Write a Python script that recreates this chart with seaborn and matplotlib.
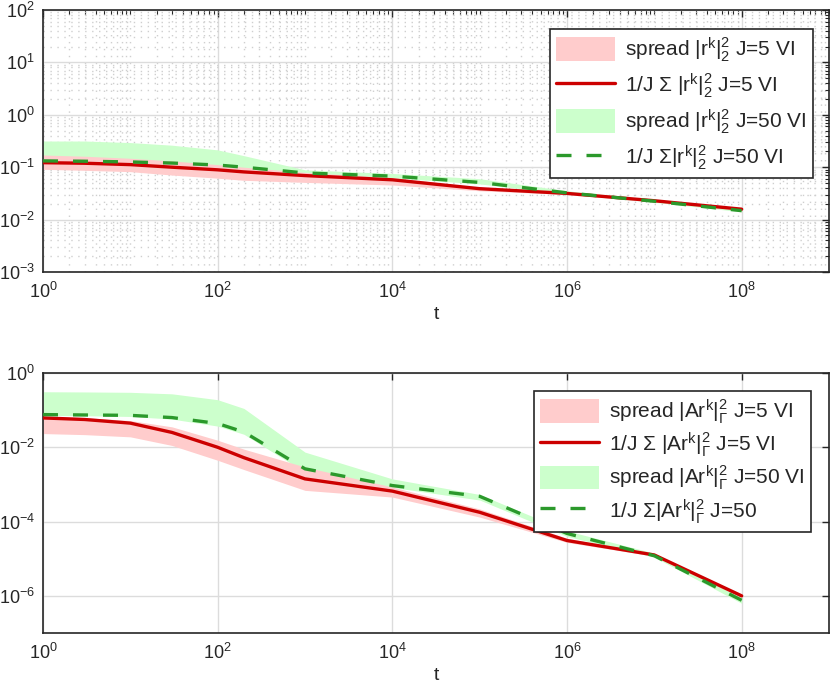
import numpy as np
import pandas as pd
import matplotlib
matplotlib.use("Agg")
import matplotlib.pyplot as plt
import matplotlib.ticker as mticker
import seaborn as sns

# ---------------- data ----------------
t = [1, 3, 10, 30, 100, 200, 1e3, 1e4, 1e5, 1e6, 1e7, 1e8]

# top panel: |r^k|_2^2
r5_mean = [0.122, 0.119, 0.112, 0.100, 0.0891, 0.0813, 0.0692, 0.0575, 0.0389, 0.0316, 0.0229, 0.0158]
r5_lo   = [0.0912, 0.0871, 0.0822, 0.0708, 0.0617, 0.0562, 0.0513, 0.0457, 0.0355, 0.0302, 0.0219, 0.0151]
r5_hi   = [0.171, 0.162, 0.148, 0.132, 0.112, 0.100, 0.0794, 0.0631, 0.0417, 0.0331, 0.0240, 0.0166]
r50_mean = [0.132, 0.130, 0.126, 0.120, 0.110, 0.100, 0.0776, 0.0676, 0.0513, 0.0324, 0.0224, 0.0148]
r50_lo   = [0.120, 0.117, 0.112, 0.107, 0.0977, 0.0891, 0.0724, 0.0631, 0.0479, 0.0309, 0.0214, 0.0141]
r50_hi   = [0.316, 0.316, 0.295, 0.263, 0.214, 0.166, 0.0891, 0.0759, 0.0603, 0.0355, 0.0240, 0.0155]

# bottom panel: |Ar^k|_Gamma^2
a5_mean = [0.0617, 0.0560, 0.0447, 0.0251, 0.0100, 0.00525, 0.00141, 0.000661, 0.000178, 3.09e-5, 1.26e-5, 1.0e-6]
a5_lo   = [0.0234, 0.0219, 0.0191, 0.0112, 0.00447, 0.00251, 0.000692, 0.000457, 0.000132, 2.75e-5, 1.17e-5, 9.3e-7]
a5_hi   = [0.0692, 0.0631, 0.0525, 0.0355, 0.0155, 0.00891, 0.00295, 0.000851, 0.000219, 3.55e-5, 1.35e-5, 1.07e-6]
a50_mean = [0.0759, 0.0741, 0.0724, 0.0631, 0.0437, 0.0257, 0.00263, 0.000933, 0.000479, 4.79e-5, 1.20e-5, 7.6e-7]
a50_lo   = [0.0724, 0.0708, 0.0676, 0.0575, 0.0372, 0.0224, 0.00214, 0.000832, 0.000380, 3.98e-5, 1.10e-5, 6.3e-7]
a50_hi   = [0.313, 0.309, 0.302, 0.275, 0.191, 0.111, 0.00741, 0.00141, 0.000537, 5.62e-5, 1.41e-5, 8.9e-7]

top_labels = [r"spread $|r^{k}|_2^2$ J=5 VI",
              r"1/J $\Sigma$ $|r^{k}|_2^2$ J=5 VI",
              r"spread $|r^{k}|_2^2$ J=50 VI",
              r"1/J $\Sigma|r^{k}|_2^2$ J=50 VI"]
bot_labels = [r"spread $|Ar^{k}|_{\Gamma}^2$ J=5 VI",
              r"1/J $\Sigma$ $|Ar^{k}|_{\Gamma}^2$ J=5 VI",
              r"spread $|Ar^{k}|_{\Gamma}^2$ J=50 VI",
              r"1/J $\Sigma|Ar^{k}|_{\Gamma}^2$ J=50"]

x_major = [1e0, 1e2, 1e4, 1e6, 1e8]
top_y_major = [1e-3, 1e-2, 1e-1, 1e0, 1e1, 1e2]
bot_y_major = [1e-6, 1e-4, 1e-2, 1e0]

# ---------------- style ----------------
sns.set_style("white")
plt.rcParams['font.family'] = ['Liberation Sans', 'DejaVu Sans']
plt.rcParams['mathtext.fontset'] = 'custom'
plt.rcParams['mathtext.rm'] = 'Liberation Sans'
plt.rcParams['mathtext.it'] = 'Liberation Sans'
plt.rcParams['mathtext.bf'] = 'Liberation Sans:bold'
plt.rcParams['mathtext.default'] = 'regular'

RED = (0.80, 0.0, 0.0)
GREEN = (0.17, 0.60, 0.17)
PINK = (1.0, 0.80, 0.80)
LGREEN = (0.80, 1.0, 0.80)
SPINE = '#262626'

fig = plt.figure(figsize=(8.3, 6.85), dpi=100)
ax1 = fig.add_axes([43/830, 1-272/685, 786/830, 262/685])
ax2 = fig.add_axes([43/830, 1-633/685, 786/830, 260/685])


def draw(ax, m5, lo5, hi5, m50, lo50, hi50, labels):
    ax.set_xscale('log')
    ax.set_yscale('log')
    ax.fill_between(t, lo5, hi5, color=PINK, lw=0, label=labels[0], zorder=2)
    df5 = pd.DataFrame({'t': t, 'v': m5})
    sns.lineplot(data=df5, x='t', y='v', ax=ax, color=RED, lw=2.4,
                 label=labels[1], zorder=3)
    ax.fill_between(t, lo50, hi50, color=LGREEN, lw=0, label=labels[2], zorder=1.5)
    df50 = pd.DataFrame({'t': t, 'v': m50})
    sns.lineplot(data=df50, x='t', y='v', ax=ax, color=GREEN, lw=2.4,
                 label=labels[3], zorder=4)
    ax.lines[-1].set_dashes((4.5, 4.5))


draw(ax1, r5_mean, r5_lo, r5_hi, r50_mean, r50_lo, r50_hi, top_labels)
draw(ax2, a5_mean, a5_lo, a5_hi, a50_mean, a50_lo, a50_hi, bot_labels)

for ax in (ax1, ax2):
    ax.set_xlim(1, 1e9)
    ax.xaxis.set_major_locator(mticker.FixedLocator(x_major))
    ax.set_axisbelow(True)
    ax.grid(which='major', color='#dcdcdc', lw=1.0, ls='-')
    for s in ax.spines.values():
        s.set_color(SPINE)
        s.set_linewidth(1.2)
        s.set_visible(True)
    ax.tick_params(which='both', direction='in', top=True, right=True,
                   colors=SPINE, labelcolor='#262626', labelsize=13)
    ax.tick_params(which='major', length=5, width=1.0)
    ax.tick_params(which='minor', length=3, width=0.8)
    ax.tick_params(axis='x', which='major', pad=7)
    ax.tick_params(axis='y', which='major', pad=6)
    ax.set_xlabel('t', fontsize=14, color='#262626', labelpad=3)
    ax.set_ylabel('')

# top panel axes details
ax1.set_ylim(1e-3, 1e2)
ax1.yaxis.set_major_locator(mticker.FixedLocator(top_y_major))
ax1.yaxis.set_minor_locator(mticker.LogLocator(base=10, subs=np.arange(2, 10), numticks=20))
ax1.xaxis.set_minor_locator(mticker.LogLocator(base=10, subs=np.arange(1, 10), numticks=20))
ax1.xaxis.set_minor_formatter(mticker.NullFormatter())
ax1.yaxis.set_minor_formatter(mticker.NullFormatter())
ax1.grid(which='minor', color='#cfcfcf', lw=1.0, ls=(0, (1, 4)))

# bottom panel axes details
ax2.set_ylim(1e-7, 1e0)
ax2.yaxis.set_major_locator(mticker.FixedLocator(bot_y_major))
ax2.yaxis.set_minor_locator(mticker.NullLocator())
ax2.xaxis.set_minor_locator(mticker.NullLocator())
ax2.yaxis.set_major_formatter(mticker.LogFormatterSciNotation())

for ax, anchor, lsp in ((ax1, (0.9796, 0.9275), 0.35), (ax2, (0.977, 0.931), 0.22)):
    handles, labels = ax.get_legend_handles_labels()
    order = [labels.index(l) for l in (top_labels if ax is ax1 else bot_labels)]
    leg = ax.legend([handles[i] for i in order], [labels[i] for i in order],
                    loc='upper right', bbox_to_anchor=anchor, borderaxespad=0,
                    fontsize=15, frameon=True, fancybox=False, framealpha=1,
                    edgecolor='#262626', handlelength=2.8, handleheight=1.35,
                    labelspacing=lsp, handletextpad=0.5, borderpad=0.3)
    leg.get_frame().set_linewidth(1.2)
    leg.set_zorder(10)

fig.savefig('out.png', dpi=100)
